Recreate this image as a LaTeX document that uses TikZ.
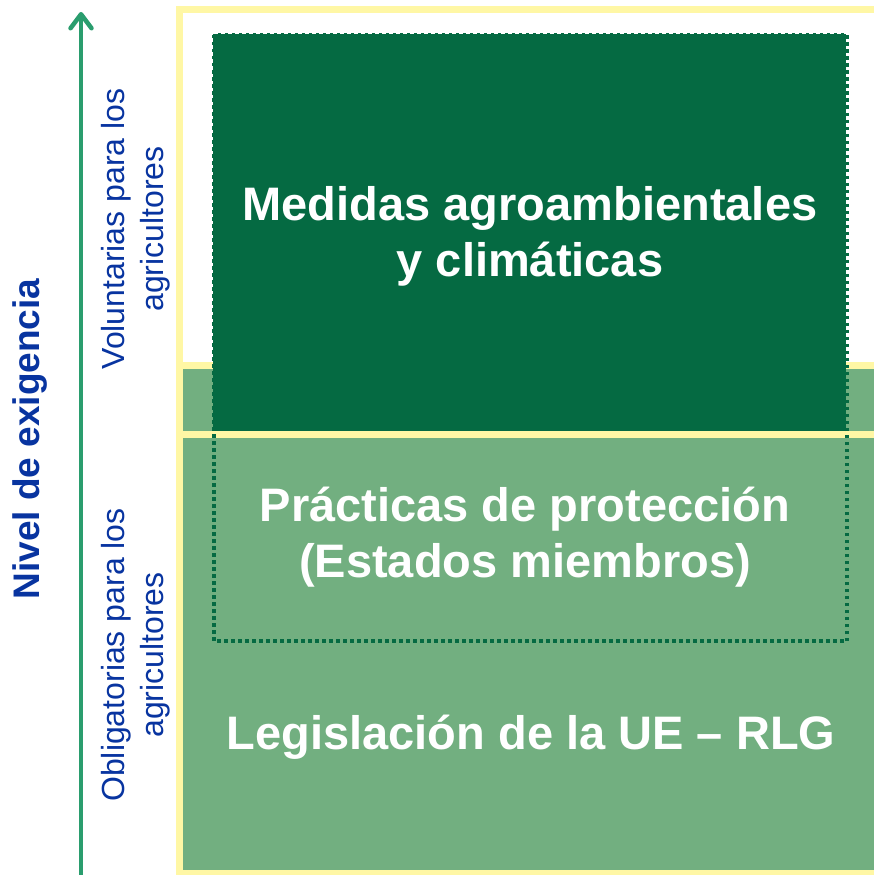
\documentclass[tikz,border=0pt]{standalone}
\usepackage{fontspec}
\setmainfont{Liberation Sans}
\usetikzlibrary{arrows.meta,positioning}
\definecolor{deepgreen}{RGB}{5,106,66}
\definecolor{softgreen}{RGB}{114,175,128}
\definecolor{paleyellow}{RGB}{255,247,165}
\definecolor{arrowgreen}{RGB}{42,157,110}
\definecolor{labelblue}{RGB}{8,52,160}

\begin{document}
\begin{tikzpicture}[
  x=1pt, y=-1pt,
  band/.style={draw=paleyellow, line width=7pt},
  bigtext/.style={text=white, align=center,
    font=\fontsize{47}{56}\selectfont\bfseries},
  sidetext/.style={text=labelblue, align=center, rotate=90,
    font=\fontsize{32}{39}\selectfont},
  arrow/.style={-{Straight Barb[length=14pt,width=21pt,line width=4.5pt,
    line cap=round, line join=round]},
    line width=4.5pt, arrowgreen},
]
  \clip (0,0) rectangle (874,875);

  \path[band, fill=softgreen] (179.5,365.5) rectangle (900,873.5);
  \path[band, fill=white] (179.5,9.5) rectangle (900,365.5);
  \draw[band] (176,434.5) -- (900,434.5);
  \fill[deepgreen] (213,34) rectangle (846,431);
  \draw[deepgreen, line width=3.5pt, dash pattern=on 3.5pt off 3.5pt]
    (214,35) rectangle (847,641);

  \coordinate (base) at (81,880);
  \coordinate (tip)  at (81,12);
  \draw[arrow] (base) -- (tip);

  \node[sidetext, font=\fontsize{37}{44}\selectfont\bfseries] (nivel)
    at (30,439) {Nivel de exigencia};
  \node[sidetext] (volunt) at (136,229) {Voluntarias para los\\agricultores};
  \node[sidetext] (oblig)  at (136,655) {Obligatorias para los\\agricultores};

  \node[bigtext] (medidas) at (530,236)
    {Medidas agroambientales\\y climáticas};
  \node[bigtext] (practicas) at (525,537)
    {Prácticas de protección\\(Estados miembros)};
  \node[bigtext] (legis) at (531,737) {Legislación de la UE – RLG};
\end{tikzpicture}
\end{document}
